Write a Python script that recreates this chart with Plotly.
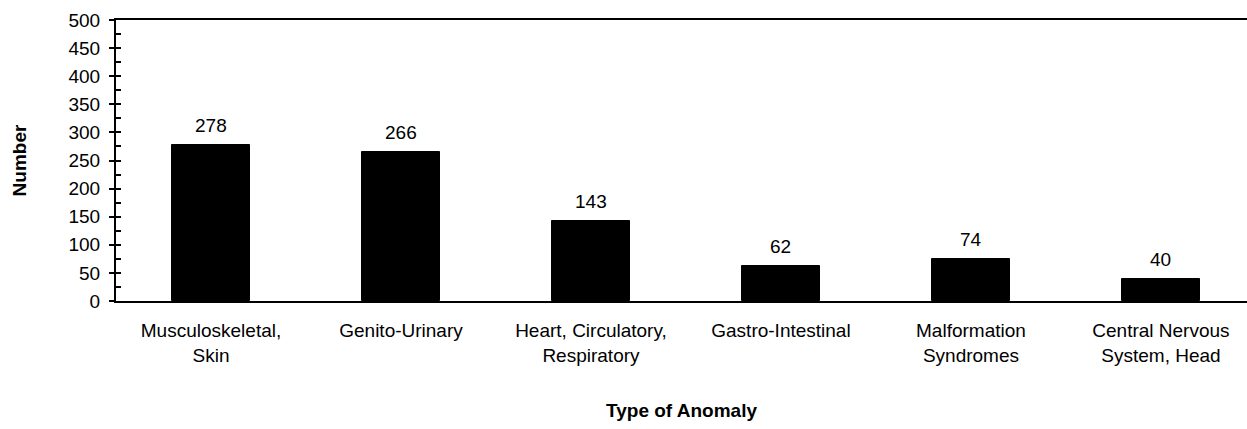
import plotly.graph_objects as go

categories = ["Musculoskeletal,<br>Skin", "Genito-Urinary", "Heart, Circulatory,<br>Respiratory",
              "Gastro-Intestinal", "Malformation<br>Syndromes", "Central Nervous<br>System, Head"]
values = [278, 266, 143, 62, 74, 40]
y_ticks = list(range(0, 501, 50))
y_minor = list(range(0, 501, 25))

FONT = "Liberation Sans, Arial, sans-serif"
FS = 19

fig = go.Figure()
fig.add_trace(go.Bar(x=list(range(len(categories))), y=values, width=0.41,
                     marker=dict(color="black", line=dict(color="black", width=1)),
                     hoverinfo="skip", showlegend=False))
fig.add_trace(go.Scatter(x=list(range(len(categories))), y=values, yaxis="y2", mode="markers",
                         marker=dict(opacity=0), hoverinfo="skip", showlegend=False))

for i, v in enumerate(values):
    fig.add_annotation(x=i, y=v, text=str(v), showarrow=False, yanchor="bottom",
                       yshift=7, font=dict(family=FONT, size=FS, color="black"))

fig.update_layout(
    width=1247, height=429,
    margin=dict(l=116, r=0, t=20, b=128),
    paper_bgcolor="white", plot_bgcolor="white",
    font=dict(family=FONT, size=FS, color="black"),
    bargap=0,
    xaxis=dict(range=[-0.5, 5.453], tickvals=list(range(len(categories))), ticktext=categories,
               showline=True, linecolor="black", linewidth=2, mirror=True,
               ticks="", showgrid=False, zeroline=False, ticklabelstandoff=11,
               title=dict(text="<b>Type of Anomaly</b>", font=dict(size=FS), standoff=39)),
    yaxis=dict(range=[0, 500], tickvals=y_ticks, showline=True, linecolor="black", linewidth=2,
               ticks="outside", ticklen=5, tickwidth=1.5, tickcolor="black",
               showgrid=False, zeroline=False, ticklabelstandoff=5,
               title=dict(text="<b>Number</b>", font=dict(size=FS), standoff=37)),
    yaxis2=dict(range=[0, 500], overlaying="y", side="left", tickvals=y_minor,
                ticks="inside", ticklen=5, tickwidth=1.5, tickcolor="black",
                showticklabels=False, showgrid=False, zeroline=False, showline=False),
)

fig.write_html("out.html", config={"displayModeBar": False},
               post_script="document.body.style.margin='0';document.body.style.overflow='hidden';")
